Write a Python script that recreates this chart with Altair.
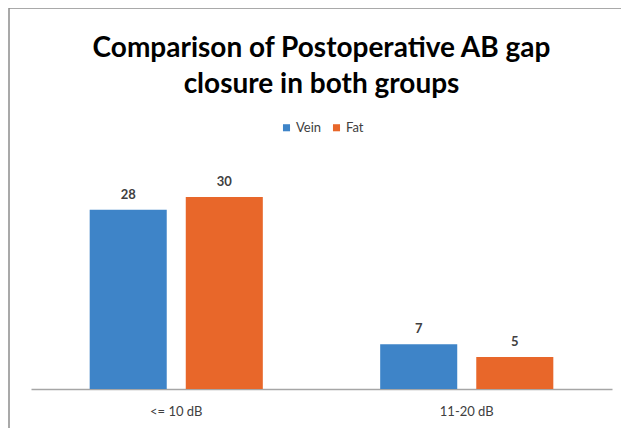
import altair as alt
import pandas as pd

categories = ["<= 10 dB", "11-20 dB"]
groups = ["Vein", "Fat"]
vein_values = [28, 7]
fat_values = [30, 5]

rows = []
for i, c in enumerate(categories):
    rows.append({"category": c, "group": "Vein", "value": vein_values[i]})
    rows.append({"category": c, "group": "Fat", "value": fat_values[i]})
df = pd.DataFrame(rows)

colors = ["#3E84C8", "#E8672A"]
FONT = "Lato"

x_enc = alt.X("category:N", sort=categories, title=None,
              scale=alt.Scale(paddingInner=0.404, paddingOuter=0.202),
              axis=alt.Axis(labelAngle=0, ticks=False, domainColor="#a6a6a6", domainWidth=1.5,
                            labelFont=FONT, labelFontSize=13, labelColor="#404040",
                            labelPadding=16))
xo_enc = alt.XOffset("group:N", sort=groups,
                     scale=alt.Scale(paddingInner=0.198, paddingOuter=0))
y_enc = alt.Y("value:Q", scale=alt.Scale(domain=[0, 35]), axis=None)

bars = alt.Chart(df).mark_bar().encode(
    x=x_enc, xOffset=xo_enc, y=y_enc,
    color=alt.Color("group:N", sort=groups,
                    scale=alt.Scale(domain=groups, range=colors),
                    legend=alt.Legend(title=None, orient="none", direction="horizontal",
                                      legendX=249, legendY=-44, symbolType="square",
                                      symbolSize=50, labelFont=FONT, labelFontSize=13,
                                      labelColor="#404040", columnPadding=8, labelOffset=3)),
)

labels = alt.Chart(df).mark_text(dy=-11, baseline="alphabetic", font=FONT, fontSize=13,
                                  fontWeight="bold", color="#404040").encode(
    x=x_enc, xOffset=xo_enc, y=y_enc, text="value:Q")

frame_data = alt.Data(values=[{"k": 1}])
frame_left = alt.Chart(frame_data).mark_rule(color="#8c8c8c", strokeWidth=1.5).encode(
    x=alt.value(-22), y=alt.value(-157), y2=alt.value(270))
frame_top = alt.Chart(frame_data).mark_rule(color="#8c8c8c", strokeWidth=1.5).encode(
    x=alt.value(-22), x2=alt.value(600), y=alt.value(-157))

chart = alt.layer(bars, labels, frame_left, frame_top).properties(
    width=581, height=224,
    padding={"left": 23, "top": 157, "right": 9, "bottom": 39},
    autosize=alt.AutoSizeParams(type="none"),
    title=alt.TitleParams(text=["Comparison of Postoperative AB gap", "closure in both groups"],
                          font=FONT, fontSize=28, fontWeight="bold", color="#000000",
                          lineHeight=36, anchor="middle", offset=-92),
).configure_view(stroke=None)

chart.save("out.html", embed_options={"renderer": "svg", "actions": False})
